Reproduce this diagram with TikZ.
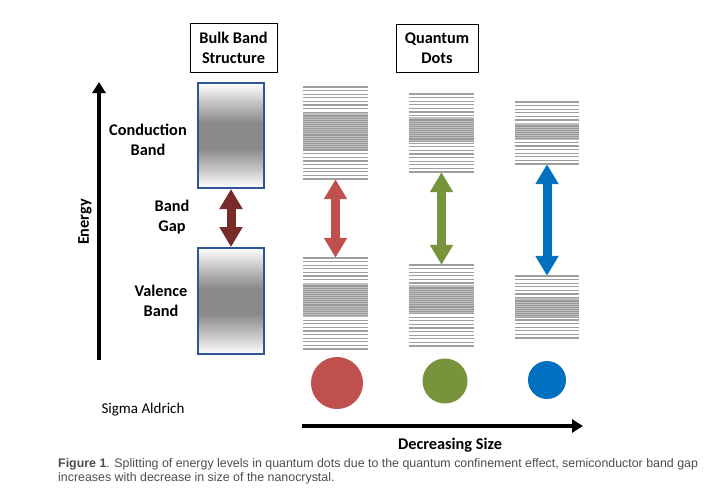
\documentclass[tikz,border=0pt]{standalone}
\usepackage{fontspec}
\setmainfont{Carlito}
\newfontfamily\capfont{Liberation Sans}
\usetikzlibrary{arrows.meta}
\definecolor{bandblue}{HTML}{2F5597}
\definecolor{gapmaroon}{HTML}{772C2A}
\definecolor{qdred}{HTML}{C0504D}
\definecolor{qdgreen}{HTML}{77933C}
\definecolor{qdblue}{HTML}{0070C0}
\definecolor{capgray}{HTML}{4D4D4D}
\pgfdeclareverticalshading{bandshade}{100bp}{color(0bp)=(white); color(25bp)=(white);
  color(34bp)=(gray!45); color(44bp)=(gray!92); color(56bp)=(gray!92); color(66bp)=(gray!45);
  color(75bp)=(white); color(100bp)=(white)}
\begin{document}
\begin{tikzpicture}[x=1pt,y=-1pt,font=\fontsize{16.3}{20}\selectfont\bfseries,
  label/.style={align=center,inner sep=0pt},
  titlebox/.style={draw,line width=1pt,align=center,inner sep=0pt},
  bulkbox/.style={draw=bandblue,line width=2pt,shading=bandshade,inner sep=0pt,minimum width=66},
  levelline/.style={gray!75,line width=1.2pt},
  denseline/.style={gray!80,line width=0.8pt},
  gaparrow/.style={line width=9pt,>={Triangle[width=22pt,length=20pt]},<->},
  bigarrow/.style={line width=4pt,-{Triangle[width=13pt,length=11pt]}},
  qdot/.style={circle,inner sep=0pt}]
\useasboundingbox (0,0) rectangle (728,493);
\newcommand{\levelstack}[7]{%
  \fill[gray!50] (#2,#6) rectangle (#3,#7);
  \pgfmathtruncatemacro{\nsparseup}{(#6-#4)/3.6}
  \pgfmathtruncatemacro{\nsparsedn}{(#5-#7)/3.6}
  \pgfmathtruncatemacro{\ndense}{(#7-#6)/1.9}
  \foreach \k in {0,...,\nsparseup}
    \draw[levelline] (#2,{#4+3.6*\k}) -- (#3,{#4+3.6*\k});
  \foreach \k in {1,...,\ndense}
    \draw[denseline] (#2,{#6+1.9*\k}) -- (#3,{#6+1.9*\k});
  \foreach \k in {0,...,\nsparsedn}
    \draw[levelline] (#2,{#5-3.6*\k}) -- (#3,{#5-3.6*\k});
  \node[inner sep=0pt,minimum width={#3-#2},minimum height={#5-#4}] (#1)
    at ({(#2+#3)/2},{(#4+#5)/2}) {};
}
\node[titlebox,minimum width=87,minimum height=49] (bulktitle) at (233.5,47.5) {Bulk Band\\Structure};
\node[titlebox,minimum width=82,minimum height=48] (qdtitle) at (437,48) {Quantum\\Dots};
\coordinate (ebot) at (99,360);
\coordinate (etop) at (99,82);
\draw[bigarrow] (ebot) -- (etop);
\node[rotate=90] (energy) at (85,222) {Energy};
\node[bulkbox,minimum height=105] (cb) at (231,135.5) {};
\node[bulkbox,minimum height=106] (vb) at (231,301) {};
\draw[gaparrow,gapmaroon] (cb.south) -- (vb.north);
\node[label] (cblabel) at (148,140) {Conduction\\Band};
\node[label] (gaplabel) at (172,217) {Band\\Gap};
\node[label] (vblabel) at (161,301) {Valence\\Band};
\levelstack{redtop}{303}{368}{87}{179}{113}{150}
\levelstack{redbot}{303}{368}{258}{349}{283}{317}
\levelstack{greentop}{409}{474}{94}{172}{117}{142}
\levelstack{greenbot}{409}{474}{265}{346}{285}{313}
\levelstack{bluetop}{515}{579}{102}{164}{123}{140}
\levelstack{bluebot}{515}{579}{276}{338}{298}{317}
\draw[gaparrow,qdred] (redtop.south) -- (redbot.north);
\draw[gaparrow,qdgreen] (greentop.south) -- (greenbot.north);
\draw[gaparrow,qdblue] (bluetop.south) -- (bluebot.north);
\node[qdot,fill=qdred,minimum size=52] (reddot) at (337,383) {};
\node[qdot,fill=qdgreen,minimum size=45] (greendot) at (445,381) {};
\node[qdot,fill=qdblue,minimum size=38] (bluedot) at (547,380) {};
\coordinate (sizestart) at (302,426);
\coordinate (sizeend) at (583,426);
\draw[bigarrow] (sizestart) -- (sizeend);
\node (sizelabel) at (450,445) {Decreasing Size};
\node[font=\fontsize{15}{18}\selectfont] (source) at (143,410) {Sigma Aldrich};
\node[anchor=base west,inner sep=0pt,text=capgray,font=\capfont\fontsize{12.4}{14}\selectfont] (capone) at (58,467)
  {\textbf{Figure 1}. Splitting of energy levels in quantum dots due to the quantum confinement effect, semiconductor band gap};
\node[anchor=base west,inner sep=0pt,text=capgray,font=\capfont\fontsize{12.4}{14}\selectfont] (captwo) at (58,481)
  {increases with decrease in size of the nanocrystal.};
\end{tikzpicture}
\end{document}
